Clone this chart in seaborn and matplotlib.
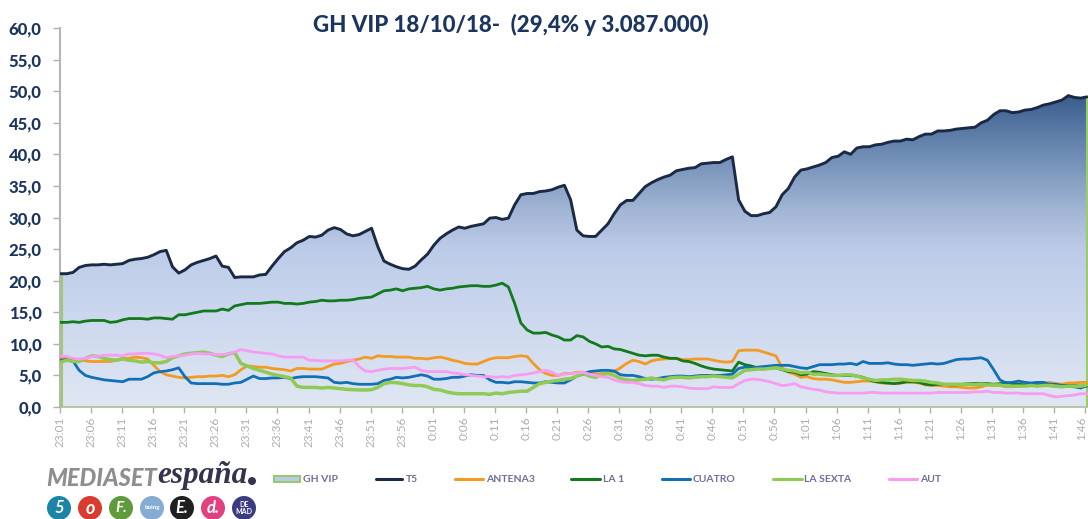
import numpy as np
import pandas as pd
import matplotlib
matplotlib.use("Agg")
import matplotlib.pyplot as plt
import seaborn as sns
from matplotlib.colors import LinearSegmentedColormap
from matplotlib.lines import Line2D
from matplotlib.patches import Circle, Rectangle
from matplotlib.transforms import ScaledTranslation

TITLE = "GH VIP 18/10/18-  (29,4% y 3.087.000)"
TICK_LABELS = ["23:01","23:06","23:11","23:16","23:21","23:26","23:31","23:36","23:41","23:46","23:51","23:56",
               "0:01","0:06","0:11","0:16","0:21","0:26","0:31","0:36","0:41","0:46","0:51","0:56",
               "1:01","1:06","1:11","1:16","1:21","1:26","1:31","1:36","1:41","1:46"]
Y_TICKS = [0, 5, 10, 15, 20, 25, 30, 35, 40, 45, 50, 55, 60]

T5 = [21.1,21.1,21.3,22.1,22.4,22.5,22.5,22.6,22.5,22.6,
      22.7,23.2,23.4,23.5,23.7,24.1,24.6,24.8,22.2,21.2,
      21.7,22.5,22.9,23.2,23.5,23.9,22.3,22.1,20.5,20.6,
      20.6,20.6,20.9,21.0,22.3,23.5,24.6,25.2,26.0,26.4,
      27.0,26.9,27.2,28.0,28.4,28.1,27.4,27.1,27.3,27.8,
      28.3,25.4,23.1,22.6,22.2,21.9,21.8,22.3,23.3,24.2,
      25.6,26.7,27.4,28.0,28.5,28.3,28.6,28.8,29.0,29.9,
      30.0,29.7,29.9,32.0,33.6,33.8,33.8,34.1,34.2,34.4,
      34.8,35.1,32.8,28.0,27.1,27.0,27.0,28.0,29.0,30.6,
      32.0,32.7,32.7,33.8,34.9,35.5,36.0,36.4,36.7,37.4,
      37.6,37.8,37.9,38.5,38.6,38.7,38.7,39.2,39.6,32.8,
      31.0,30.3,30.3,30.6,30.8,31.7,33.6,34.6,36.4,37.5,
      37.7,38.0,38.3,38.7,39.5,39.7,40.4,40.0,41.0,41.2,
      41.2,41.5,41.6,41.9,42.1,42.1,42.4,42.3,42.8,43.2,
      43.2,43.7,43.7,43.8,44.0,44.1,44.2,44.3,45.0,45.4,
      46.3,46.9,46.9,46.6,46.7,47.0,47.1,47.4,47.8,48.0,
      48.3,48.6,49.3,49.0,48.9,49.1]
LA1 = [13.4,13.4,13.5,13.4,13.6,13.7,13.7,13.7,13.4,13.5,
       13.8,14.0,14.0,14.0,13.9,14.1,14.1,14.0,13.9,14.6,
       14.6,14.8,15.0,15.2,15.2,15.2,15.5,15.3,16.0,16.2,
       16.4,16.4,16.4,16.5,16.6,16.6,16.4,16.4,16.3,16.4,
       16.6,16.7,16.9,16.8,16.8,16.9,16.9,17.0,17.2,17.3,
       17.4,17.9,18.4,18.5,18.7,18.4,18.7,18.8,18.9,19.1,
       18.7,18.5,18.7,18.8,19.0,19.1,19.2,19.2,19.1,19.1,
       19.3,19.6,19.0,16.4,13.3,12.2,11.7,11.7,11.8,11.4,
       11.1,10.6,10.6,11.3,11.1,10.4,10.0,9.5,9.6,9.2,
       9.1,8.8,8.5,8.2,8.1,8.2,8.2,7.9,7.7,7.7,
       7.3,7.2,6.9,6.5,6.2,6.0,5.9,5.8,5.7,7.1,
       6.7,6.5,6.2,6.3,6.1,6.2,5.9,5.6,5.5,5.1,
       5.2,5.6,5.5,5.3,5.1,5.0,5.0,5.0,4.9,4.7,
       4.3,4.0,3.9,3.8,3.7,3.8,4.0,4.0,3.9,3.6,
       3.5,3.6,3.6,3.5,3.5,3.6,3.7,3.7,3.7,3.7,
       3.6,3.7,3.9,3.7,3.6,3.5,3.6,3.5,3.6,3.4,
       3.3,3.4,3.4,3.4,3.3,3.3]
CUATRO = [7.4,7.5,7.3,5.8,5.0,4.7,4.5,4.3,4.2,4.1,
          4.0,4.4,4.4,4.4,4.8,5.4,5.6,5.7,5.9,6.2,
          4.8,3.8,3.7,3.7,3.7,3.7,3.6,3.6,3.8,3.9,
          4.4,4.9,4.5,4.5,4.6,4.6,4.7,4.5,4.7,4.8,
          4.8,4.8,4.7,4.6,3.9,3.8,3.9,3.7,3.6,3.6,
          3.6,3.7,4.2,4.4,4.7,4.6,4.7,4.9,5.1,4.9,
          4.4,4.4,4.5,4.7,4.7,4.9,5.1,5.0,5.0,4.3,
          3.9,3.9,3.8,4.0,4.0,3.9,3.8,3.8,4.0,3.9,
          3.8,3.8,4.3,4.9,5.2,5.6,5.7,5.8,5.8,5.7,
          5.1,5.0,5.0,4.8,4.5,4.4,4.5,4.7,4.8,4.9,
          4.9,4.8,4.9,5.0,5.0,5.0,5.0,5.1,5.2,6.1,
          6.3,6.2,6.3,6.4,6.5,6.6,6.6,6.6,6.4,6.2,
          6.1,6.4,6.7,6.7,6.7,6.8,6.8,6.9,6.7,7.2,
          6.9,6.9,6.9,7.0,6.8,6.7,6.7,6.6,6.7,6.8,
          6.9,6.8,6.9,7.2,7.5,7.6,7.6,7.7,7.8,7.4,
          5.9,4.3,3.8,3.9,4.1,3.9,3.8,3.9,3.9,3.6,
          3.6,3.4,3.3,3.2,3.0,3.4]
ANTENA3 = [7.8,7.7,7.6,7.5,7.3,7.2,7.2,7.2,7.2,7.4,
           7.7,7.7,7.9,7.8,7.6,6.6,5.6,5.1,4.9,4.7,
           4.6,4.7,4.8,4.8,4.9,4.9,5.0,4.8,5.1,5.9,
           6.5,6.4,6.3,6.3,6.1,6.0,5.9,5.7,6.1,6.1,
           6.0,6.0,6.0,6.4,6.8,6.9,7.2,7.4,7.6,7.9,
           7.7,8.1,8.0,8.0,7.9,7.9,7.9,7.7,7.7,7.6,
           7.8,7.9,7.7,7.4,7.2,6.9,6.8,6.8,7.2,7.6,
           7.8,7.8,7.8,8.0,8.1,8.0,6.9,5.9,5.3,5.0,
           5.0,5.3,5.3,5.5,5.5,5.3,5.2,5.3,5.4,5.6,
           6.2,6.9,7.4,7.2,6.8,7.3,7.5,7.6,7.7,7.7,
           7.5,7.5,7.6,7.6,7.6,7.4,7.2,7.1,7.2,8.9,
           9.0,9.0,9.0,8.7,8.4,8.1,6.2,5.5,5.2,4.7,
           4.8,4.5,4.4,4.4,4.3,4.1,3.9,3.9,4.0,4.1,
           4.1,4.0,3.8,3.7,3.8,3.8,3.9,3.9,3.8,3.5,
           3.4,3.4,3.3,3.2,3.2,3.1,3.0,3.0,3.2,3.5,
           3.4,3.4,3.2,3.2,3.3,3.5,3.4,3.5,3.8,3.9,
           3.7,3.6,3.8,3.8,3.9,3.9]
LA_SEXTA = [7.1,7.4,7.2,7.2,7.7,8.1,8.0,7.7,7.5,7.4,
            7.6,7.4,7.3,7.1,7.2,7.0,7.0,7.2,7.8,8.1,
            8.4,8.5,8.6,8.7,8.5,8.2,8.0,8.4,8.6,6.9,
            6.5,6.1,5.8,5.5,5.2,5.0,4.8,4.6,3.3,3.1,
            3.1,3.1,3.0,3.1,3.0,2.9,2.8,2.75,2.7,2.7,
            2.75,3.1,3.7,3.9,3.85,3.7,3.5,3.4,3.4,3.2,
            2.8,2.7,2.4,2.2,2.1,2.1,2.1,2.1,2.1,2.0,
            2.2,2.1,2.3,2.4,2.5,2.5,3.1,3.7,3.9,4.1,
            4.2,4.4,4.5,4.9,5.3,4.9,4.7,5.1,5.3,5.0,
            4.5,4.3,4.2,4.3,4.4,4.6,4.4,4.3,4.6,4.7,
            4.7,4.6,4.7,4.8,4.8,4.9,4.8,4.7,4.6,5.2,
            5.8,5.9,6.0,6.0,6.1,6.2,6.0,5.8,5.7,5.4,
            5.5,5.2,5.2,5.1,5.0,5.0,5.1,5.1,4.9,4.6,
            4.4,4.2,4.3,4.3,4.4,4.4,4.3,4.2,4.2,4.1,
            3.9,3.8,3.6,3.6,3.6,3.6,3.6,3.5,3.6,3.5,
            3.5,3.5,3.3,3.3,3.3,3.3,3.4,3.3,3.4,3.4,
            3.3,3.2,3.3,3.3,3.3,3.5]
AUT = [8.1,8.0,7.7,7.6,7.7,8.0,8.0,8.2,8.2,8.2,
       8.1,8.4,8.4,8.5,8.5,8.4,8.2,7.8,8.0,8.1,
       8.2,8.4,8.5,8.4,8.4,8.3,8.3,8.4,8.7,9.1,
       8.9,8.7,8.6,8.5,8.4,8.1,7.9,7.9,7.9,7.9,
       7.4,7.4,7.3,7.3,7.3,7.3,7.4,7.5,6.4,5.7,
       5.6,5.8,6.0,6.1,6.1,6.1,6.2,6.3,5.8,5.6,
       5.6,5.6,5.6,5.4,5.3,5.1,5.0,4.9,4.8,4.8,
       4.7,4.8,4.7,5.0,5.1,5.2,5.4,5.6,5.8,5.5,
       5.0,5.2,5.3,5.4,5.5,5.2,5.0,4.8,4.7,4.3,
       4.0,3.9,3.9,3.7,3.4,3.3,3.3,3.1,3.3,3.3,
       3.2,3.0,2.9,2.9,2.9,3.2,3.1,3.1,3.1,3.7,
       4.2,4.4,4.4,4.2,4.0,3.7,3.4,3.5,3.7,3.2,
       3.0,2.8,2.7,2.4,2.3,2.2,2.2,2.2,2.2,2.2,
       2.3,2.3,2.2,2.2,2.2,2.2,2.2,2.2,2.2,2.2,
       2.2,2.3,2.3,2.3,2.3,2.3,2.3,2.4,2.4,2.5,
       2.3,2.3,2.2,2.2,2.2,2.1,2.1,2.1,2.1,1.8,
       1.6,1.7,1.8,1.9,2.1,2.1]

series = {"T5": T5, "ANTENA3": ANTENA3, "LA 1": LA1, "CUATRO": CUATRO, "LA SEXTA": LA_SEXTA, "AUT": AUT}
palette = {"T5": "#1b2a44", "ANTENA3": "#f39a22", "LA 1": "#12791c", "CUATRO": "#1170b5",
           "LA SEXTA": "#8fca55", "AUT": "#f79cf0"}
widths = {"T5": 2.1, "ANTENA3": 2.0, "LA 1": 2.0, "CUATRO": 2.0, "LA SEXTA": 2.5, "AUT": 2.0}
for name, vals in series.items():
    assert len(vals) == 166, (name, len(vals))

NAVY = "#1c3560"
FONT = ["Lato", "DejaVu Sans"]
W, H = 1088, 519

sns.set_theme(style="white")
plt.rcParams["font.family"] = FONT
fig = plt.figure(figsize=(W / 100, H / 100), dpi=100, facecolor="white")
ax = fig.add_axes([59.5 / W, (H - 407) / H, (W - 59.5) / W, (407 - 28) / H])

minutes = np.arange(166)
x0 = -0.16
x1 = 165.16
edge_left = 0.25   # the area's left edge sits just right of the first sample
ax.set_xlim(x0, x1)
ax.set_ylim(0, 60)

# GH VIP area: same curve as T5, vertical gradient clipped to it
area = ax.fill_between(minutes, 0, T5, facecolor="none", edgecolor="none", zorder=1)
cmap = LinearSegmentedColormap.from_list("ghvip", [(0, "#e0e7f3"), (0.30, "#cbd7ee"), (0.5, "#bccbe8"),
                                                   (0.62, "#a3b6d5"), (0.8, "#6f8db5"), (1, "#375a8b")])
grad = ax.imshow(np.linspace(1, 0, 256).reshape(-1, 1), cmap=cmap, aspect="auto",
                 extent=[edge_left, x1, 0, 50], zorder=1)
grad.set_clip_path(area.get_paths()[0], transform=ax.transData)
ax.set_xlim(x0, x1)
ax.set_ylim(0, 60)
ax.plot([edge_left, edge_left], [0, T5[0]], color="#9ccb6c", lw=1.5, zorder=2, solid_capstyle="butt")
ax.plot([minutes[-1], minutes[-1]], [0, T5[-1]], color="#9ccb6c", lw=1.5, zorder=2, solid_capstyle="butt")

long = pd.DataFrame([{"minute": m, "canal": n, "share": v}
                     for n, vals in series.items() for m, v in zip(minutes, vals)])
sns.lineplot(data=long, x="minute", y="share", hue="canal", palette=palette, hue_order=list(series),
             estimator=None, sort=False, legend=False, ax=ax, zorder=3)
for line, name in zip(ax.get_lines()[2:], series):
    line.set_linewidth(widths[name])
    line.set_solid_joinstyle("round")

ax.set_xlabel("")
ax.set_ylabel("")
ax.set_xticks([-0.08 + 4.993 * i for i in range(len(TICK_LABELS))])
ax.set_xticklabels(TICK_LABELS, rotation=90, fontsize=8.5, color="#adadad")
ax.set_yticks(Y_TICKS)
ax.set_yticklabels([f"{v},0" for v in Y_TICKS], fontsize=12, fontweight="black", color=NAVY)
ax.tick_params(axis="x", length=4, width=1, color="#b0b0b0", pad=3, bottom=True)
ax.tick_params(axis="y", length=5, width=1, color="#b0b0b0", pad=8, left=True)
for s in ("top", "right"):
    ax.spines[s].set_visible(False)
ax.spines["left"].set_color("#b5b5b5")
ax.spines["left"].set_linewidth(1.5)
ax.spines["bottom"].set_color("#aebf96")
ax.spines["bottom"].set_linewidth(1.2)
# keep the last time label fully inside the picture
last = ax.get_xticklabels()[-1]
last.set_transform(last.get_transform() + ScaledTranslation(-4 / 100, 0, fig.dpi_scale_trans))

# overlay in pixel coordinates for title, legend and logo
ov = fig.add_axes([0, 0, 1, 1], facecolor="none")
ov.set_xlim(0, W)
ov.set_ylim(H, 0)
ov.axis("off")
ov.text(510.5, 25, TITLE, ha="center", va="center", fontsize=16, fontweight="black", color=NAVY)

LEG_TEXT = "#6d6d96"
ov.add_patch(Rectangle((274, 475.5), 26, 6, facecolor="#b9cbe8", edgecolor="#97c968", lw=1.4))
ov.text(303, 479, "GH VIP", va="center", fontsize=7.5, fontweight="bold", color=LEG_TEXT)
legend_pos = [("T5", 376, 402, 406), ("ANTENA3", 455, 483, 486), ("LA 1", 571, 600, 603),
              ("CUATRO", 662, 690, 693), ("LA SEXTA", 773, 802, 804), ("AUT", 889, 917, 920)]
for name, a, b, t in legend_pos:
    ov.add_line(Line2D([a, b], [479, 479], color=palette[name], lw=2.2))
    ov.text(t, 479, name, va="center", fontsize=7.5, fontweight="bold", color=LEG_TEXT)

# logo
ov.text(46, 478, "MEDIASET", va="center", fontsize=17, fontweight="black", style="italic", color="#8e8e8e")
ov.text(157, 476, "españa", va="center", fontsize=22.5, fontweight="bold", style="italic",
        color="#34344f", family=["Liberation Serif", "DejaVu Serif"])
ov.add_patch(Circle((252, 481), 4, facecolor="#34344f", edgecolor="none"))
badges = [(59, "#1b84a8", "5", 12), (90, "#d93b2e", "o", 13), (121, "#5f9b3d", "F.", 11), (152, "#86acd3", "boing", 4.5),
          (182, "#202020", "E.", 12), (213, "#e2407f", "d.", 12), (244, "#3b3b82", "DE\nMAD", 5)]
for cx, col, lab, fs in badges:
    ov.add_patch(Circle((cx, 508), 12, facecolor=col, edgecolor="none"))
    ov.text(cx, 508, lab, ha="center", va="center", fontsize=fs, fontweight="bold", style="italic" if fs > 5 else "normal",
            color="white", linespacing=0.9)

fig.savefig("out.png", dpi=100, facecolor="white")
